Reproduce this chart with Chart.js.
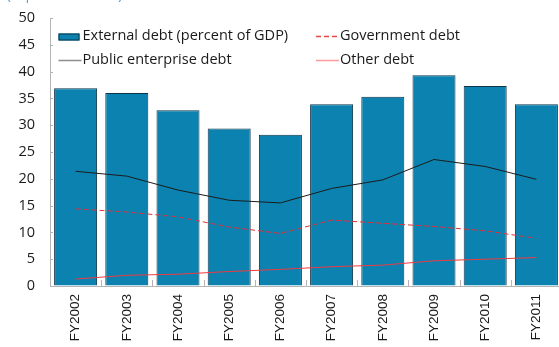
<!DOCTYPE html>
<html>
<head>
<meta charset="utf-8">
<script src="https://cdn.jsdelivr.net/npm/chart.js@4/dist/chart.umd.min.js"></script>
<style>
  html, body { margin: 0; padding: 0; background: #fff; width: 559px; height: 347px; overflow: hidden; }
  #wrap { position: relative; width: 563px; height: 347px; }
  #sub { position: absolute; left: 7px; top: -12px; font: 13px "Open Sans", sans-serif; color: #3ea2e2; white-space: nowrap; line-height: 14px; }
  canvas { position: absolute; left: 0; top: 0; }
</style>
</head>
<body>
<div id="wrap">
  <canvas id="c" width="563" height="347"></canvas>
  <div id="sub">(In percent of GDP)</div>
</div>
<script>
const categories = ['FY2002', 'FY2003', 'FY2004', 'FY2005', 'FY2006', 'FY2007', 'FY2008', 'FY2009', 'FY2010', 'FY2011'];
const externalDebt = [36.9, 36.0, 32.8, 29.4, 28.2, 33.9, 35.3, 39.3, 37.3, 33.9];
const publicEnterpriseDebt = [21.4, 20.5, 17.9, 16.0, 15.5, 18.2, 19.8, 23.6, 22.3, 19.9];
const governmentDebt = [14.4, 13.8, 12.9, 11.0, 9.8, 12.3, 11.7, 11.1, 10.3, 8.9];
const otherDebt = [1.3, 2.0, 2.2, 2.7, 3.1, 3.6, 3.9, 4.7, 5.0, 5.3];
const seriesNames = ['External debt (percent of GDP)', 'Government debt', 'Public enterprise debt', 'Other debt'];
const yTicks = [0, 5, 10, 15, 20, 25, 30, 35, 40, 45, 50];

const LABEL_FONT = '"Open Sans", "Noto Sans", sans-serif';

const decor = {
  id: 'decor',
  afterDatasetsDraw(chart) {
    const ctx = chart.ctx;
    const a = chart.chartArea;
    const xs = chart.scales.x, ys = chart.scales.y;
    ctx.save();
    ctx.strokeStyle = '#b4b4b4';
    ctx.lineWidth = 1;
    yTicks.forEach(v => {
      const y = Math.round(ys.getPixelForValue(v)) + 0.5;
      ctx.beginPath(); ctx.moveTo(a.left, y); ctx.lineTo(a.left + 3, y); ctx.stroke();
    });
    for (let i = 0; i <= categories.length; i++) {
      const x = Math.round(xs.getPixelForValue(i - 0.5)) + 0.5;
      ctx.beginPath(); ctx.moveTo(x, a.bottom); ctx.lineTo(x, a.bottom - 6); ctx.stroke();
    }
    const ds = chart.data.datasets;
    const items = [
      { d: ds[0], col: 0, row: 0 },
      { d: ds[1], col: 1, row: 0 },
      { d: ds[2], col: 0, row: 1 },
      { d: ds[3], col: 1, row: 1 }
    ];
    const colX = [a.left + 8.5, a.left + 266];
    const rowY = [a.top + 18.5, a.top + 42.5];
    ctx.font = '14.5px ' + LABEL_FONT;
    ctx.textBaseline = 'middle';
    ctx.textAlign = 'left';
    items.forEach(it => {
      const x = colX[it.col], y = rowY[it.row];
      const d = it.d;
      if (d.type === 'bar') {
        ctx.fillStyle = d.backgroundColor;
        ctx.fillRect(x, y - 3, 21, 7);
        ctx.strokeStyle = d.borderColor;
        ctx.lineWidth = 1;
        ctx.strokeRect(x + 0.5, y - 2.5, 20, 6);
      } else {
        ctx.strokeStyle = d.legendColor;
        ctx.lineWidth = 1.5;
        ctx.setLineDash(d.borderDash || []);
        ctx.beginPath(); ctx.moveTo(x, y); ctx.lineTo(x + 23, y); ctx.stroke();
        ctx.setLineDash([]);
      }
      ctx.fillStyle = '#1a1a1a';
      ctx.fillText(d.label, x + 24, y - 1);
    });
    ctx.restore();
  }
};

new Chart(document.getElementById('c'), {
  data: {
    labels: categories,
    datasets: [
      { type: 'bar', label: seriesNames[0], data: externalDebt, backgroundColor: '#0b82b0', borderColor: '#0d3447', borderWidth: 1, order: 5, barPercentage: 0.84, categoryPercentage: 1 },
      { type: 'line', label: seriesNames[1], data: governmentDebt, borderColor: '#e2323c', legendColor: '#e84a4a', borderWidth: 1, borderDash: [5, 3], pointRadius: 0, tension: 0, order: 2 },
      { type: 'line', label: seriesNames[2], data: publicEnterpriseDebt, borderColor: '#1c1c1c', legendColor: '#8c8c8c', borderWidth: 1, pointRadius: 0, tension: 0, order: 1 },
      { type: 'line', label: seriesNames[3], data: otherDebt, borderColor: '#ee3a42', legendColor: '#ff9a9a', borderWidth: 1, pointRadius: 0, tension: 0, order: 3 }
    ]
  },
  options: {
    responsive: false,
    animation: false,
    devicePixelRatio: 1,
    layout: { padding: { left: 0, top: 18, right: 1, bottom: 0 } },
    plugins: { legend: { display: false }, tooltip: { enabled: false }, title: { display: false } },
    scales: {
      x: {
        offset: true,
        grid: { display: true, drawOnChartArea: false, drawTicks: false, color: 'rgba(0,0,0,0)' },
        border: { display: true, color: '#b4b4b4', width: 1 },
        ticks: { maxRotation: 90, minRotation: 90, padding: 8, color: '#1a1a1a', font: { family: '"Liberation Sans", Arial, sans-serif', size: 13.5 } },
        afterFit(s) { s.height = 61; s.paddingLeft = 0; s.paddingRight = 0; }
      },
      y: {
        min: 0, max: 50,
        afterBuildTicks(s) { s.ticks = yTicks.map(v => ({ value: v })); },
        grid: { display: true, drawOnChartArea: false, drawTicks: false, color: 'rgba(0,0,0,0)' },
        border: { display: true, color: '#b4b4b4', width: 1 },
        ticks: { padding: 15, color: '#1a1a1a', font: { family: LABEL_FONT, size: 14.5 } },
        afterFit(s) { s.width = 50; s.paddingTop = 0; s.paddingBottom = 0; }
      }
    }
  },
  plugins: [decor]
});
</script>
</body>
</html>
